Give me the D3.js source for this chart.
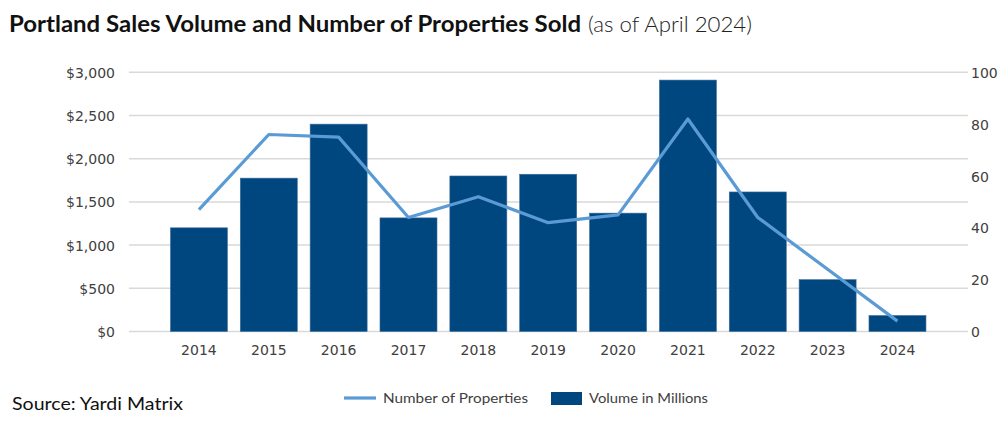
<!DOCTYPE html>
<html>
<head>
<meta charset="utf-8">
<script src="https://cdn.jsdelivr.net/npm/d3@7/dist/d3.min.js"></script>
<style>
  html, body { margin: 0; padding: 0; background: #fff; }
  svg { display: block; }
</style>
</head>
<body>
<svg id="chart" width="1007" height="433"></svg>
<script>
// ---- Data ----
const years = ["2014","2015","2016","2017","2018","2019","2020","2021","2022","2023","2024"];
const volumeMillions = [1200, 1775, 2400, 1315, 1800, 1820, 1370, 2910, 1615, 600, 185];
const numProperties = [47, 76, 75, 44, 52, 42, 45, 82, 44, 24, 4];
const leftTicks = [0, 500, 1000, 1500, 2000, 2500, 3000];
const rightTicks = [0, 20, 40, 60, 80, 100];
const titleBold = "Portland Sales Volume and Number of Properties Sold";
const titleLight = "(as of April 2024)";
const sourceText = "Source: Yardi Matrix";
const legendLine = "Number of Properties";
const legendBar = "Volume in Millions";

// ---- Layout ----
const svg = d3.select("#chart");
const gridLeft = 129, gridRight = 968;
const yTop = 72.3, yBottom = 331.5;
const barColor = "#00467F";
const lineColor = "#5B9BD5";
const gridColor = "#d9d9d9";
const textColor = "#404040";

const x = d3.scaleBand().domain(years).range([164, 932.4]).paddingInner(0.184).paddingOuter(0.092);
const yL = d3.scaleLinear().domain([0, 3000]).range([yBottom, yTop]);
const yR = d3.scaleLinear().domain([0, 100]).range([yBottom, yTop]);

// Gridlines
svg.append("g").selectAll("line").data(leftTicks).join("line")
  .attr("x1", gridLeft).attr("x2", gridRight)
  .attr("y1", d => yL(d)).attr("y2", d => yL(d))
  .attr("stroke", gridColor).attr("stroke-width", 1.5);

// Left axis
const leftAxis = d3.axisLeft(yL).tickValues(leftTicks).tickSize(0).tickPadding(0)
  .tickFormat(d => "$" + d3.format(",")(d));
const gL = svg.append("g").attr("transform", `translate(115,0)`).call(leftAxis);
gL.select(".domain").remove();
gL.selectAll("text").attr("font-family", "DejaVu Sans, Verdana, sans-serif")
  .attr("font-size", 14).attr("fill", textColor).attr("dy", "0.36em");

// Right axis
const rightAxis = d3.axisRight(yR).tickValues(rightTicks).tickSize(0).tickPadding(0);
const gR = svg.append("g").attr("transform", `translate(971,0)`).call(rightAxis);
gR.select(".domain").remove();
gR.selectAll("text").attr("font-family", "DejaVu Sans, Verdana, sans-serif")
  .attr("font-size", 14).attr("fill", textColor).attr("dy", "0.36em");

// Bars
svg.append("g").selectAll("rect").data(years).join("rect")
  .attr("x", d => x(d)).attr("width", x.bandwidth())
  .attr("y", (d, i) => yL(volumeMillions[i]))
  .attr("height", (d, i) => yL(0) - yL(volumeMillions[i]))
  .attr("fill", barColor)
  .attr("stroke", "#3f6f9c").attr("stroke-width", 0.6);

// Line
const line = d3.line()
  .x((d, i) => x(years[i]) + x.bandwidth() / 2)
  .y(d => yR(d));
svg.append("path").datum(numProperties)
  .attr("d", line).attr("fill", "none")
  .attr("stroke", lineColor).attr("stroke-width", 3.2)
  .attr("stroke-linejoin", "round").attr("stroke-linecap", "butt");

// X axis labels
const xAxis = d3.axisBottom(x).tickSize(0).tickPadding(0);
const gX = svg.append("g").attr("transform", `translate(0,355)`).call(xAxis);
gX.select(".domain").remove();
gX.selectAll("text").attr("font-family", "DejaVu Sans, Verdana, sans-serif")
  .attr("font-size", 14).attr("fill", textColor).attr("dy", "0");

// Title
svg.append("text").attr("x", 9).attr("y", 32)
  .attr("font-family", "Lato, sans-serif").attr("font-weight", 700).attr("font-size", 22)
  .attr("fill", "#111")
  .attr("textLength", 572).attr("lengthAdjust", "spacingAndGlyphs")
  .text(titleBold);
svg.append("text").attr("x", 588).attr("y", 32)
  .attr("font-family", "Lato, sans-serif").attr("font-weight", 300).attr("font-size", 21)
  .attr("fill", "#222")
  .attr("textLength", 164).attr("lengthAdjust", "spacingAndGlyphs")
  .text(titleLight);

// Source
svg.append("text").attr("x", 12).attr("y", 410)
  .attr("font-family", "Lato, sans-serif").attr("font-size", 18).attr("fill", "#111")
  .attr("textLength", 171).attr("lengthAdjust", "spacingAndGlyphs")
  .text(sourceText);

// Legend
svg.append("line").attr("x1", 344).attr("x2", 376).attr("y1", 398).attr("y2", 398)
  .attr("stroke", lineColor).attr("stroke-width", 3.2);
svg.append("text").attr("x", 383).attr("y", 402.5)
  .attr("font-family", "Lato, sans-serif").attr("font-size", 14).attr("fill", textColor)
  .attr("textLength", 145).attr("lengthAdjust", "spacingAndGlyphs")
  .text(legendLine);
svg.append("rect").attr("x", 551).attr("y", 392).attr("width", 31).attr("height", 13)
  .attr("fill", barColor);
svg.append("text").attr("x", 589).attr("y", 402.5)
  .attr("font-family", "Lato, sans-serif").attr("font-size", 14).attr("fill", textColor)
  .attr("textLength", 119).attr("lengthAdjust", "spacingAndGlyphs")
  .text(legendBar);
</script>
</body>
</html>
